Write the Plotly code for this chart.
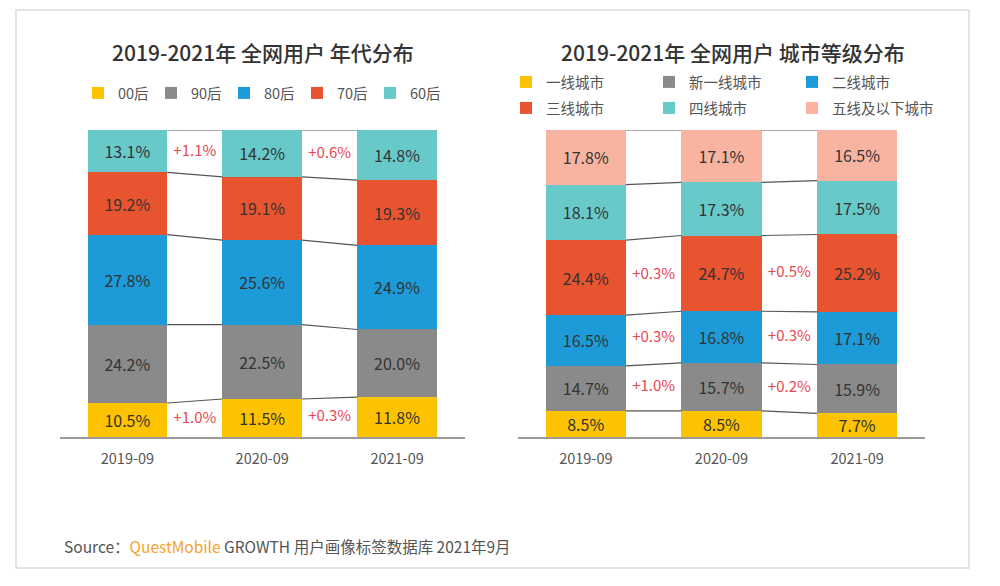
import plotly.graph_objects as go

# ---------------- data ----------------
periods = ["2019-09", "2020-09", "2021-09"]

age_names = ["00后", "90后", "80后", "70后", "60后"]
age_values = {
    "00后": [10.5, 11.5, 11.8],
    "90后": [24.2, 22.5, 20.0],
    "80后": [27.8, 25.6, 24.9],
    "70后": [19.2, 19.1, 19.3],
    "60后": [13.1, 14.2, 14.8],
}
age_delta_series = ["00后", "60后"]

city_names = ["一线城市", "新一线城市", "二线城市", "三线城市", "四线城市", "五线及以下城市"]
city_values = {
    "一线城市": [8.5, 8.5, 7.7],
    "新一线城市": [14.7, 15.7, 15.9],
    "二线城市": [16.5, 16.8, 17.1],
    "三线城市": [24.4, 24.7, 25.2],
    "四线城市": [18.1, 17.3, 17.5],
    "五线及以下城市": [17.8, 17.1, 16.5],
}
city_delta_series = ["新一线城市", "二线城市", "三线城市"]

title_left = "2019-2021年 全网用户 年代分布"
title_right = "2019-2021年 全网用户 城市等级分布"

# ---------------- style ----------------
FONT = "Noto Sans CJK SC, Noto Sans, sans-serif"
age_colors = ["#FDC300", "#8A8A8A", "#1D9BD9", "#E8542F", "#67CAC9"]
city_colors = ["#FDC300", "#8A8A8A", "#1D9BD9", "#E8542F", "#67CAC9", "#F8B4A0"]
BAR_W = 0.59
W, H = 984, 570   # page body has an 8px margin inside the 1000x586 window
OFF = 8


def px(p):
    return (p - OFF) / W


def py(p):
    return 1 - (p - OFF) / H


fig = go.Figure()


def add_chart(names, values, colors, xa, ya, legends):
    xs = list(range(len(periods)))
    for i, name in enumerate(names):
        fig.add_trace(go.Bar(
            x=xs, y=values[name], name=name, width=BAR_W,
            marker=dict(color=colors[i], line=dict(width=0)),
            text=[f"{v:.1f}%" for v in values[name]],
            textposition="inside", insidetextanchor="middle", textangle=0,
            constraintext="none",
            textfont=dict(family=FONT, size=16, color="#333333"),
            xaxis=xa, yaxis=ya, legend=legends[i], showlegend=True,
        ))
    # connector lines between stacks (normalized cumulative boundaries)
    totals = [sum(values[n][j] for n in names) for j in xs]
    cums = []
    acc = [0.0] * len(xs)
    for n in names:
        acc = [acc[j] + values[n][j] for j in xs]
        cums.append([acc[j] / totals[j] * 100 for j in xs])
    lx, ly = [], []
    for c in cums:
        for j in xs[:-1]:
            lx += [j + BAR_W / 2, j + 1 - BAR_W / 2, None]
            ly += [c[j], c[j + 1], None]
    fig.add_trace(go.Scatter(
        x=lx, y=ly, mode="lines", line=dict(color="#555555", width=1.2),
        xaxis=xa, yaxis=ya, showlegend=False, hoverinfo="skip",
    ))
    return cums


def add_deltas(names, values, delta_series, cums, xa, ya):
    xs = list(range(len(periods)))
    tx, ty, tt = [], [], []
    for n in delta_series:
        k = names.index(n)
        lower = cums[k - 1] if k > 0 else [0.0] * len(xs)
        mids = [(lower[j] + cums[k][j]) / 2 for j in xs]
        for j in xs[:-1]:
            d = values[n][j + 1] - values[n][j]
            tx.append(j + 0.5)
            ty.append((mids[j] + mids[j + 1]) / 2)
            tt.append(f"+{d:.1f}%" if d >= 0 else f"{d:.1f}%")
    fig.add_trace(go.Scatter(
        x=tx, y=ty, text=tt, mode="text",
        textfont=dict(family=FONT, size=15, color="#E8474F"),
        xaxis=xa, yaxis=ya, showlegend=False, hoverinfo="skip",
    ))


cums_a = add_chart(age_names, age_values, age_colors, "x", "y",
                   ["legend"] * len(age_names))
add_deltas(age_names, age_values, age_delta_series, cums_a, "x", "y")
cums_c = add_chart(city_names, city_values, city_colors, "x2", "y2",
                   ["legend2"] * 3 + ["legend3"] * 3)
add_deltas(city_names, city_values, city_delta_series, cums_c, "x2", "y2")

ydom = [py(437), py(130)]
xcommon = dict(
    range=[-0.5, 2.5], tickvals=list(range(len(periods))), ticktext=periods,
    showline=True, linecolor="#9a9a9a", linewidth=1.5, ticks="",
    showgrid=False, zeroline=False, fixedrange=True, ticklabelstandoff=8,
    tickfont=dict(family=FONT, size=14.5, color="#555555"),
)
ycommon = dict(range=[0, 100], visible=False, showgrid=False, fixedrange=True)

leg_common = dict(
    orientation="h", yanchor="middle", xanchor="left", traceorder="normal",
    entrywidthmode="pixels", bgcolor="rgba(0,0,0,0)", itemclick=False,
    font=dict(family=FONT, size=14.5, color="#555555"),
)

fig.update_layout(
    width=W, height=H,
    margin=dict(l=0, r=0, t=0, b=0),
    paper_bgcolor="white", plot_bgcolor="rgba(0,0,0,0)",
    barmode="stack", barnorm="percent",
    font=dict(family=FONT),
    xaxis=dict(domain=[px(60), px(464.5)], anchor="y", **xcommon),
    yaxis=dict(domain=ydom, anchor="x", **ycommon),
    xaxis2=dict(domain=[px(518), px(925)], anchor="y2", **xcommon),
    yaxis2=dict(domain=ydom, anchor="x2", **ycommon),
    legend=dict(x=px(78), y=py(93), entrywidth=28, **leg_common),
    legend2=dict(x=px(506), y=py(82), entrywidth=98, **leg_common),
    legend3=dict(x=px(506), y=py(108), entrywidth=98, **leg_common),
    shapes=[dict(type="rect", xref="paper", yref="paper",
                 x0=px(16), x1=px(969), y0=py(568), y1=py(10),
                 line=dict(color="#dcdcdc", width=1.5), layer="below")],
    annotations=[
        dict(text=title_left, x=px(263), y=py(52), xref="paper", yref="paper",
             showarrow=False, font=dict(family=FONT, size=21, color="#333333",
                                        weight=500),
             xanchor="center", yanchor="middle"),
        dict(text=title_right, x=px(733), y=py(52), xref="paper", yref="paper",
             showarrow=False, font=dict(family=FONT, size=21, color="#333333",
                                        weight=500),
             xanchor="center", yanchor="middle"),
        dict(text="Source：<span style='color:#F5A32A'>QuestMobile</span> GROWTH 用户画像标签数据库 2021年9月",
             x=px(62), y=py(546), xref="paper", yref="paper", showarrow=False,
             font=dict(family=FONT, size=15.5, color="#555555"),
             xanchor="left", yanchor="middle"),
    ],
)

fig.write_html("out.html")
